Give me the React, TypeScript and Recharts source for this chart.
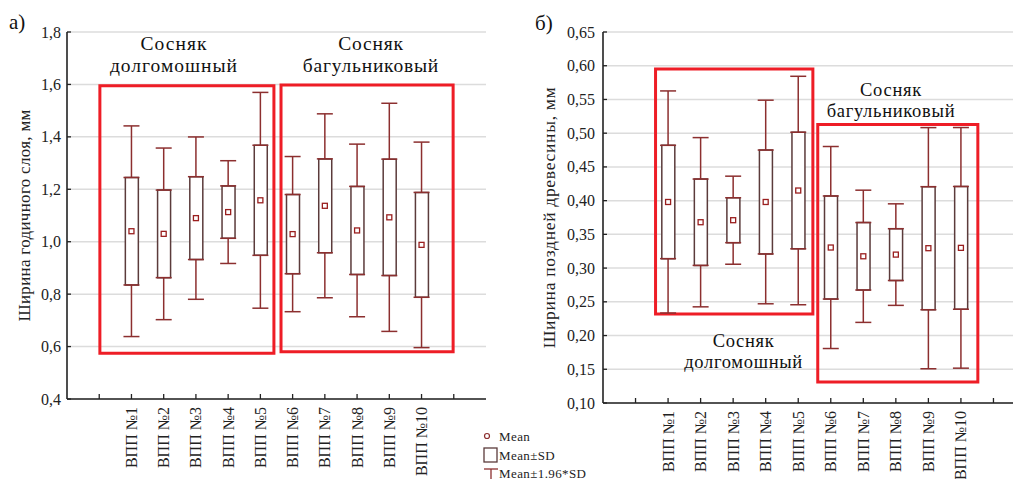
import React from "react";
import {
  ComposedChart, Bar, Scatter, ErrorBar, XAxis, YAxis, CartesianGrid,
  ReferenceArea, ReferenceDot, Label,
} from "recharts";

// plots along the x axis (slot 0 and slot 11 are empty ticks)
const plots = ["ВПП №1", "ВПП №2", "ВПП №3", "ВПП №4", "ВПП №5", "ВПП №6", "ВПП №7", "ВПП №8", "ВПП №9", "ВПП №10"];
const slots = [1, 2, 3, 4, 5, 6, 7, 8, 9, 10];
const xTicks = [0, 1, 2, 3, 4, 5, 6, 7, 8, 9, 10, 11];

// а) ring width, mm
const ringMean = [1.04, 1.03, 1.09, 1.113, 1.158, 1.029, 1.137, 1.043, 1.093, 0.988];
const ringSd = [0.205, 0.167, 0.158, 0.1, 0.21, 0.151, 0.179, 0.168, 0.222, 0.2];
const ringTicks = [0.4, 0.6, 0.8, 1.0, 1.2, 1.4, 1.6, 1.8];

// б) latewood width, mm
const lateMean = [0.398, 0.368, 0.371, 0.398, 0.415, 0.3305, 0.3175, 0.32, 0.3295, 0.33];
const lateSd = [0.084, 0.064, 0.0333, 0.077, 0.0864, 0.0764, 0.05, 0.0384, 0.0912, 0.091];
const lateTicks = [0.1, 0.15, 0.2, 0.25, 0.3, 0.35, 0.4, 0.45, 0.5, 0.55, 0.6, 0.65];

const Z = 1.96;

const SERIF = '"Liberation Serif", "Times New Roman", serif';
const INK = "#222";
const BOX = "#5b3b3b";
const WHISKER = "#8c2f2f";
const MEAN = "#9a1f1f";
const RED = "#ee1d26";
const GRID = "#dcdcdc";

// box = mean ± SD, whiskers continue from the box edges to mean ± 1.96*SD
function makeRows(means: number[], sds: number[]) {
  return plots.map((name, i) => ({
    name,
    x: slots[i],
    mean: means[i],
    box: [means[i] - sds[i], means[i] + sds[i]],
    hi: means[i] + sds[i],
    lo: means[i] - sds[i],
    upErr: [0, (Z - 1) * sds[i]],
    downErr: [(Z - 1) * sds[i], 0],
  }));
}

const comma = (digits: number) => (v: number) => v.toFixed(digits).replace(".", ",");

const BottomTick = (props: any) => {
  const { x, y, payload } = props;
  const label = plots[payload.value - 1];
  return (
    <g>
      <line x1={x} y1={y} x2={x} y2={y - 5} stroke={INK} strokeWidth={1.3} />
      {label && (
        <text x={x} y={y + 8} transform={`rotate(-90 ${x} ${y + 8})`} textAnchor="end"
          dominantBaseline="central" fontSize={16} fontFamily={SERIF} fill={INK}>
          {label}
        </text>
      )}
    </g>
  );
};

const TopTick = (props: any) => {
  const { x, y } = props;
  return <line x1={x} y1={y} x2={x} y2={y + 5} stroke={INK} strokeWidth={1.3} />;
};

const makeLeftTick = (gap: number, fmt: (v: number) => string) => (props: any) => {
  const { x, y, payload } = props;
  return (
    <g>
      <line x1={x} y1={y} x2={x + 4} y2={y} stroke={INK} strokeWidth={1.3} />
      <text x={x - gap} y={y} textAnchor="end" dominantBaseline="central"
        fontSize={16} fontFamily={SERIF} fill={INK}>
        {fmt(payload.value)}
      </text>
    </g>
  );
};

const RightTick = (props: any) => {
  const { x, y } = props;
  return <line x1={x} y1={y} x2={x - 4} y2={y} stroke="#555" strokeWidth={1.3} />;
};

const MeanMark = (p: any) => (
  <rect x={p.cx - 2.5} y={p.cy - 2.5} width={5} height={5} fill="#fff" stroke={MEAN} strokeWidth={1.3} />
);

const NoMark = () => <g />;

type Note = { x: number; y: number; lines: string[]; size: number; spacing: number };
type Rect = { x1: number; x2: number; y1: number; y2: number };

function BoxChart(props: {
  width: number; height: number; margin: any; yWidth: number; xHeight: number;
  means: number[]; sds: number[]; ticks: number[]; digits: number; gap: number;
  title: string; titleDx: number; titleSize: number; titleSpacing: number;
  rects: Rect[]; notes: Note[];
}) {
  const rows = makeRows(props.means, props.sds);
  const domain = [props.ticks[0], props.ticks[props.ticks.length - 1]];
  return (
    <ComposedChart width={props.width} height={props.height} data={rows} margin={props.margin}>
      <CartesianGrid horizontal vertical={false} stroke={GRID} strokeWidth={1.5} />
      <XAxis dataKey="x" type="number" domain={[-1, 12]} ticks={xTicks} interval={0}
        height={props.xHeight} tickSize={0} tickMargin={0} tickLine={false}
        tick={<BottomTick />} axisLine={{ stroke: INK, strokeWidth: 1.6 }} />
      <XAxis xAxisId="top" orientation="top" dataKey="x" type="number" domain={[-1, 12]}
        ticks={xTicks} interval={0} height={0} tickSize={0} tickMargin={0} tickLine={false}
        tick={<TopTick />} axisLine={{ stroke: INK, strokeWidth: 1.6 }} />
      <YAxis type="number" domain={domain} ticks={props.ticks} interval={0} width={props.yWidth}
        tickSize={0} tickMargin={0} tickLine={false}
        tick={makeLeftTick(props.gap, comma(props.digits))}
        axisLine={{ stroke: INK, strokeWidth: 1.6 }}>
        <Label content={(lp: any) => {
          const vb = lp.viewBox;
          const cx = vb.x + props.titleDx;
          const cy = vb.y + vb.height / 2;
          return (
            <text x={cx} y={cy} transform={`rotate(-90 ${cx} ${cy})`} textAnchor="middle"
              dominantBaseline="central" fontSize={props.titleSize} letterSpacing={props.titleSpacing}
              fontFamily={SERIF} fill={INK}>
              {props.title}
            </text>
          );
        }} />
      </YAxis>
      <YAxis yAxisId="right" orientation="right" type="number" domain={domain} ticks={props.ticks}
        interval={0} width={0} tickSize={0} tickMargin={0} tickLine={false} tick={<RightTick />}
        axisLine={{ stroke: "#555", strokeWidth: 2 }} />

      {props.rects.map((r, i) => (
        <ReferenceArea key={`r${i}`} x1={r.x1} x2={r.x2} y1={r.y1} y2={r.y2} fill="none"
          fillOpacity={0} stroke={RED} strokeWidth={3} ifOverflow="visible" />
      ))}

      <Bar dataKey="box" barSize={13} fill="#fff" stroke={BOX} strokeWidth={1.5} isAnimationActive={false} />
      <Scatter dataKey="hi" shape={NoMark} isAnimationActive={false}>
        <ErrorBar dataKey="upErr" direction="y" width={8} stroke={WHISKER} strokeWidth={1.5} />
      </Scatter>
      <Scatter dataKey="lo" shape={NoMark} isAnimationActive={false}>
        <ErrorBar dataKey="downErr" direction="y" width={8} stroke={WHISKER} strokeWidth={1.5} />
      </Scatter>
      <Scatter dataKey="mean" shape={MeanMark} isAnimationActive={false} />

      {props.notes.map((n, i) => (
        <ReferenceDot key={`n${i}`} x={n.x} y={n.y} r={1} ifOverflow="visible"
          shape={(p: any) => (
            <text x={p.cx} y={p.cy} textAnchor="middle" fontSize={n.size} fontFamily={SERIF}
              fill="#111" letterSpacing={n.spacing}>
              {n.lines.map((ln, k) => (
                <tspan key={k} x={p.cx} dy={k === 0 ? 0 : n.size * 1.12}>{ln}</tspan>
              ))}
            </text>
          )} />
      ))}
    </ComposedChart>
  );
}

const ringRects: Rect[] = [
  { x1: 0.02, x2: 5.42, y1: 0.575, y2: 1.595 },
  { x1: 5.64, x2: 10.98, y1: 0.58, y2: 1.598 },
];
const ringNotes: Note[] = [
  { x: 2.32, y: 1.731, lines: ["Сосняк", "долгомошный"], size: 19.5, spacing: 1 },
  { x: 8.43, y: 1.731, lines: ["Сосняк", "багульниковый"], size: 19.5, spacing: 0.8 },
];
const lateRects: Rect[] = [
  { x1: 0.615, x2: 5.45, y1: 0.232, y2: 0.595 },
  { x1: 5.6, x2: 10.52, y1: 0.131, y2: 0.513 },
];
const lateNotes: Note[] = [
  { x: 7.85, y: 0.555, lines: ["Сосняк", "багульниковый"], size: 18.5, spacing: 0.7 },
  { x: 3.32, y: 0.183, lines: ["Сосняк", "долгомошный"], size: 18.5, spacing: 0.7 },
];

export default function App() {
  return (
    <div style={{ position: "absolute", left: 0, top: 0, width: 1013, height: 479, overflow: "hidden", background: "#fff" }}>
      <div style={{ position: "absolute", left: 0, top: 0 }}>
        <BoxChart width={500} height={479} margin={{ top: 32, right: 14, bottom: 0, left: 22 }}
          yWidth={45} xHeight={80} means={ringMean} sds={ringSd} ticks={ringTicks} digits={1} gap={6}
          title="Ширина годичного слоя, мм" titleDx={2} titleSize={17} titleSpacing={0.3}
          rects={ringRects} notes={ringNotes} />
      </div>
      <div style={{ position: "absolute", left: 500, top: 0 }}>
        <BoxChart width={526} height={479} margin={{ top: 32, right: 0, bottom: 0, left: 53 }}
          yWidth={50} xHeight={76} means={lateMean} sds={lateSd} ticks={lateTicks} digits={2} gap={8}
          title="Ширина поздней древесины, мм" titleDx={-4} titleSize={17.5} titleSpacing={0.7}
          rects={lateRects} notes={lateNotes} />
      </div>
      <svg width={1013} height={479} style={{ position: "absolute", left: 0, top: 0, pointerEvents: "none" }}>
        <text x={9} y={29} fontSize={21} fontFamily={SERIF} fill="#111">а)</text>
        <text x={535} y={30} fontSize={21} fontFamily={SERIF} fill="#111">б)</text>
        <g fontFamily={SERIF} fontSize={13} fill={INK} letterSpacing={0.4}>
          <circle cx={487} cy={436} r={2.5} fill="#fff" stroke={WHISKER} strokeWidth={1.2} />
          <text x={499} y={441}>Mean</text>
          <rect x={484} y={448} width={13} height={14} fill="#fff" stroke={BOX} strokeWidth={1.3} />
          <text x={499} y={460}>Mean±SD</text>
          <line x1={484} y1={469} x2={498} y2={469} stroke={WHISKER} strokeWidth={1.3} />
          <line x1={491} y1={469} x2={491} y2={479} stroke={WHISKER} strokeWidth={1.3} />
          <text x={499} y={477.5}>Mean±1.96*SD</text>
        </g>
      </svg>
    </div>
  );
}
